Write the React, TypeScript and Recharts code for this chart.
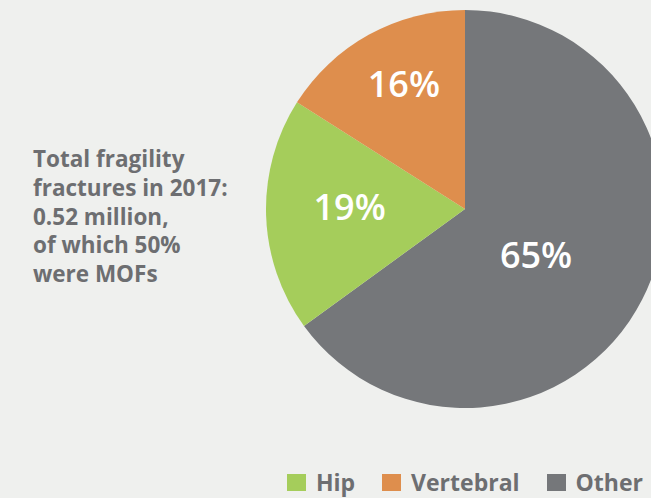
import { PieChart, Pie, Cell, Legend } from "recharts";

const sliceNames = ["Other", "Hip", "Vertebral"];
const sliceValues = [65, 19, 16];
const legendOrder = ["Hip", "Vertebral", "Other"];
const noteLines = [
  "Total fragility",
  "fractures in 2017:",
  "0.52 million,",
  "of which 50%",
  "were MOFs",
];

const colors: Record<string, string> = {
  Hip: "#a5cd5b",
  Vertebral: "#de8e4d",
  Other: "#75777a",
};

// where each label sits: share of the radius and a small turn off the mid angle
const labelSpread: Record<string, number> = {
  Other: 0.424,
  Hip: 0.58,
  Vertebral: 0.7,
};
const labelTurn: Record<string, number> = {
  Other: -5.6,
  Hip: -2.8,
  Vertebral: -2.8,
};

const RAD = Math.PI / 180;
const FONT = "'Open Sans', sans-serif";
const TEXT = "#6d6e71";

const data = sliceNames.map((name, i) => ({ name, value: sliceValues[i] }));

const renderLabel = (props: any) => {
  const { cx, cy, midAngle, outerRadius, name, value } = props;
  const r = outerRadius * (labelSpread[name] ?? 0.6);
  const a = (midAngle + (labelTurn[name] ?? 0)) * RAD;
  const x = cx + r * Math.cos(-a);
  const y = cy + r * Math.sin(-a);
  return (
    <text
      x={x}
      y={y}
      fill="#ffffff"
      textAnchor="middle"
      dominantBaseline="central"
      fontFamily={FONT}
      fontWeight={600}
      fontSize={36}
    >
      {value}%
    </text>
  );
};

const renderLegend = () => (
  <div style={{ display: "flex", justifyContent: "flex-end", fontFamily: FONT }}>
    {legendOrder.map((name) => (
      <div
        key={name}
        style={{ display: "flex", alignItems: "center", marginLeft: 27 }}
      >
        <span
          style={{
            width: 19,
            height: 17,
            background: colors[name],
            display: "inline-block",
            marginRight: 10,
          }}
        />
        <span style={{ color: TEXT, fontWeight: 700, fontSize: 23 }}>{name}</span>
      </div>
    ))}
  </div>
);

export default function App() {
  return (
    <div
      style={{
        position: "absolute",
        left: 0,
        top: 0,
        width: 651,
        height: 498,
        background: "#eff0ee",
        overflow: "hidden",
      }}
    >
      <div
        style={{
          position: "absolute",
          left: 33,
          top: 145,
          fontFamily: FONT,
          fontWeight: 700,
          fontSize: 22.5,
          lineHeight: "28.75px",
          color: TEXT,
        }}
      >
        {noteLines.map((l) => (
          <div key={l}>{l}</div>
        ))}
      </div>
      <PieChart
        width={651}
        height={498}
        margin={{ top: 0, right: 0, bottom: 0, left: 0 }}
      >
        <Pie
          data={data}
          dataKey="value"
          nameKey="name"
          cx={465}
          cy={209}
          outerRadius={199}
          startAngle={90}
          endAngle={-270}
          stroke="none"
          labelLine={false}
          label={renderLabel}
          isAnimationActive={false}
        >
          {data.map((d) => (
            <Cell key={d.name} fill={colors[d.name]} />
          ))}
        </Pie>
        <Legend
          content={renderLegend}
          wrapperStyle={{
            position: "absolute",
            right: 8,
            top: 466,
            left: "auto",
            bottom: "auto",
            width: 420,
          }}
        />
      </PieChart>
    </div>
  );
}
